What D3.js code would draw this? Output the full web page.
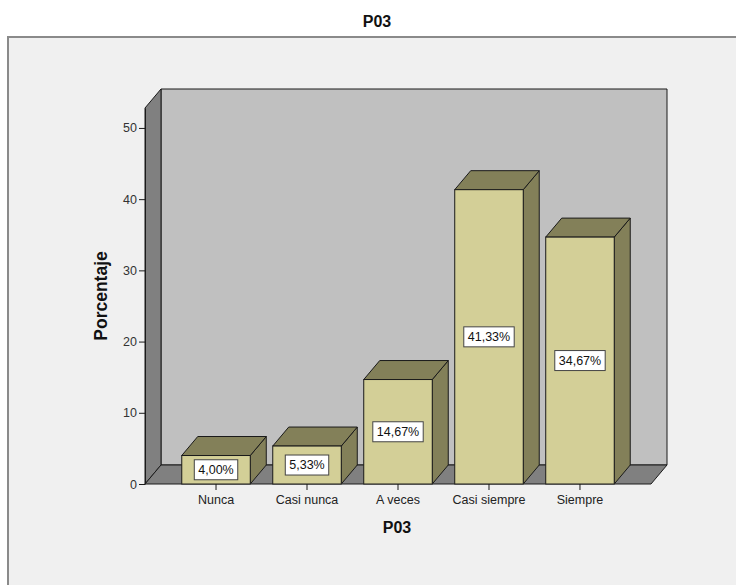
<!DOCTYPE html>
<html>
<head>
<meta charset="utf-8">
<script src="https://cdn.jsdelivr.net/npm/d3@7/dist/d3.min.js"></script>
<style>
  html, body { margin: 0; padding: 0; background: #ffffff; }
  svg { display: block; font-family: "Liberation Sans", Arial, sans-serif; }
</style>
</head>
<body>
<svg id="chart" width="736" height="585"></svg>
<script>
// Data
const categories = ["Nunca", "Casi nunca", "A veces", "Casi siempre", "Siempre"];
const percentages = [4.00, 5.33, 14.67, 41.33, 34.67];
const yTicks = [0, 10, 20, 30, 40, 50];
const chartTitle = "P03";
const xTitle = "P03";
const yTitle = "Porcentaje";

// Layout
const svg = d3.select("#chart");
const plot = { left: 145, right: 651, top: 108, bottom: 484 };
const depth = { dx: 16, dy: -19 };
const yMax = 52.8;

const x = d3.scaleBand()
  .domain(categories)
  .range([plot.left, plot.right])
  .paddingInner(0.247)
  .paddingOuter(0.404);

const y = d3.scaleLinear()
  .domain([0, yMax])
  .range([plot.bottom, plot.top]);

const colors = {
  page: "#f0f0f0",
  frame: "#8a8a8a",
  wall: "#c0c0c0",
  side: "#808080",
  barFront: "#d3cf97",
  barShade: "#838059",
  edge: "#1a1a1a"
};

const line = d3.line();

// Outer panel (only top and left border fall inside the view)
svg.append("rect")
  .attr("x", 8).attr("y", 37)
  .attr("width", 800).attr("height", 600)
  .attr("fill", colors.page)
  .attr("stroke", colors.frame)
  .attr("stroke-width", 2);

// Title
svg.append("text")
  .attr("x", 377).attr("y", 27)
  .attr("text-anchor", "middle")
  .attr("font-size", 16).attr("font-weight", "bold")
  .attr("fill", "#111")
  .text(chartTitle);

// Back wall
const bx0 = plot.left + depth.dx, bx1 = plot.right + depth.dx;
const by0 = plot.top + depth.dy, by1 = plot.bottom + depth.dy;
svg.append("path")
  .attr("d", line([[bx0, by0], [bx1, by0], [bx1, by1], [bx0, by1]]) + "Z")
  .attr("fill", colors.wall).attr("stroke", colors.edge).attr("stroke-width", 1);

// Left side wall
svg.append("path")
  .attr("d", line([[plot.left, plot.bottom], [plot.left, plot.top], [bx0, by0], [bx0, by1]]) + "Z")
  .attr("fill", colors.side).attr("stroke", colors.edge).attr("stroke-width", 1);

// Floor
svg.append("path")
  .attr("d", line([[plot.left, plot.bottom], [plot.right, plot.bottom], [bx1, by1], [bx0, by1]]) + "Z")
  .attr("fill", colors.side).attr("stroke", colors.edge).attr("stroke-width", 1);

// Bars (front face, top face, right face)
const bars = svg.append("g").selectAll("g")
  .data(categories.map((c, i) => ({ cat: c, value: percentages[i] })))
  .join("g");

bars.each(function(d) {
  const g = d3.select(this);
  const x0 = x(d.cat), x1 = x0 + x.bandwidth();
  const yt = y(d.value), yb = y(0);
  const dx = depth.dx, dy = depth.dy;
  g.append("path")
    .attr("d", line([[x1, yb], [x1, yt], [x1 + dx, yt + dy], [x1 + dx, yb + dy]]) + "Z")
    .attr("fill", colors.barShade).attr("stroke", colors.edge).attr("stroke-width", 1)
    .attr("stroke-linejoin", "round");
  g.append("path")
    .attr("d", line([[x0, yt], [x1, yt], [x1 + dx, yt + dy], [x0 + dx, yt + dy]]) + "Z")
    .attr("fill", colors.barShade).attr("stroke", colors.edge).attr("stroke-width", 1)
    .attr("stroke-linejoin", "round");
  g.append("rect")
    .attr("x", x0).attr("y", yt)
    .attr("width", x1 - x0).attr("height", yb - yt)
    .attr("fill", colors.barFront).attr("stroke", colors.edge).attr("stroke-width", 1);
});

// Value labels
const fmt = v => d3.format(".2f")(v).replace(".", ",") + "%";
bars.each(function(d) {
  const g = d3.select(this);
  const cx = x(d.cat) + x.bandwidth() / 2;
  const cy = (y(d.value) + y(0)) / 2;
  const t = g.append("text")
    .attr("x", cx).attr("y", cy)
    .attr("text-anchor", "middle")
    .attr("dominant-baseline", "central")
    .attr("font-size", 12.5)
    .attr("fill", "#111")
    .text(fmt(d.value));
  const bb = t.node().getBBox();
  g.insert("rect", "text")
    .attr("x", bb.x - 4).attr("y", cy - 10)
    .attr("width", bb.width + 8).attr("height", 20)
    .attr("fill", "#ffffff").attr("stroke", "#444").attr("stroke-width", 1);
});

// Y axis
const yAxis = d3.axisLeft(y).tickValues(yTicks).tickSize(6).tickSizeOuter(0).tickPadding(2);
const yg = svg.append("g").attr("transform", `translate(${plot.left},0)`).call(yAxis);
yg.select(".domain").attr("stroke", colors.edge);
yg.selectAll(".tick line").attr("stroke", colors.edge);
yg.selectAll(".tick text").attr("font-size", 12.5).attr("fill", "#333")
  .attr("font-family", "Liberation Sans, Arial, sans-serif");

// X axis
const xAxis = d3.axisBottom(x).tickSize(6).tickSizeOuter(0).tickPadding(5);
const xg = svg.append("g").attr("transform", `translate(0,${plot.bottom})`).call(xAxis);
xg.select(".domain").remove();
xg.selectAll(".tick line").attr("stroke", colors.edge);
xg.selectAll(".tick text").attr("font-size", 12.5).attr("fill", "#222")
  .attr("font-family", "Liberation Sans, Arial, sans-serif");

// Axis titles
svg.append("text")
  .attr("x", 397).attr("y", 533)
  .attr("text-anchor", "middle")
  .attr("font-size", 16).attr("font-weight", "bold").attr("fill", "#111")
  .text(xTitle);

svg.append("text")
  .attr("transform", `translate(107,${(plot.top + plot.bottom) / 2}) rotate(-90)`)
  .attr("text-anchor", "middle")
  .attr("font-size", 17.5).attr("font-weight", "bold").attr("fill", "#111")
  .text(yTitle);
</script>
</body>
</html>
